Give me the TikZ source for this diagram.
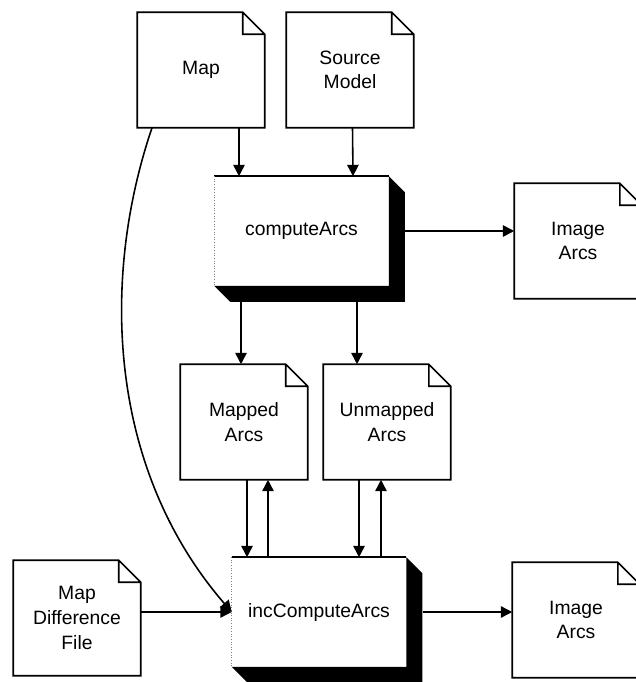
\documentclass[tikz,border=0pt]{standalone}
\usepackage{fontspec}
\setmainfont{Liberation Sans}
\usetikzlibrary{arrows.meta,calc}

\begin{document}
\begin{tikzpicture}[x=0.02cm,y=-0.02cm,line width=0.9pt,
  >={Triangle[length=6.5pt,width=6.5pt]},
  doc/.style={minimum width=2.52cm,minimum height=2.28cm,inner sep=0pt,
    align=center,font=\fontsize{11}{14}\selectfont},
  proc/.style={minimum width=3.46cm,minimum height=2.16cm,inner sep=0pt,
    fill=white,font=\fontsize{11}{14}\selectfont}]
\useasboundingbox (0,0) rectangle (635,682);
% Documents
\node[doc] (map) at (201,70) {Map};
\node[doc] (src) at (350,70) {Source\\Model};
\node[doc] (mapped) at (244,422) {Mapped\\Arcs};
\node[doc] (unmapped) at (387,422) {Unmapped\\Arcs};
\node[doc] (mdf) at (77,618) {Map\\Difference\\File};
\node[doc] (imgA) at (578,241) {Image\\Arcs};
\node[doc] (imgB) at (576,620) {Image\\Arcs};
\foreach \n in {map,src,mapped,unmapped,mdf,imgA,imgB}
  \draw (\n.south west) -- (\n.north west) -- ([xshift=-0.44cm]\n.north east)
    -- ([yshift=-0.44cm]\n.north east) -- (\n.south east) -- cycle
    ([xshift=-0.44cm]\n.north east) |- ([yshift=-0.44cm]\n.north east);
% Processes (raised boxes)
\node[proc] (comp) at (301.5,231) {computeArcs};
\node[proc] (inc) at (319,612) {incComputeArcs};
\foreach \n in {comp,inc} {
  \fill (\n.north east) -- ++(0.32cm,-0.32cm)
    -- ([shift={(0.32cm,-0.32cm)}]\n.south east)
    -- ([shift={(0.32cm,-0.32cm)}]\n.south west)
    -- (\n.south west) -- (\n.south east) -- cycle;
  \draw (\n.north west) -- (\n.north east);
  \draw[gray,densely dotted,line width=0.5pt] (\n.north west) -- (\n.south west);
}
% Flows
\draw[->] ($(map.south)+(38,0)$) -- ($(comp.north)+(-62.5,0)$);
\draw[->] ($(src.south)+(2.5,0)$) -- ($(comp.north)+(51.5,0)$);
\draw[->] ($(comp.south)+(-60.5,16)$) -- ($(mapped.north)+(-3,0)$);
\draw[->] ($(comp.south)+(55.5,16)$) -- ($(unmapped.north)+(-30,0)$);
\draw[->] ([xshift=0.32cm]comp.east) -- (comp.east -| imgA.west);
\draw[->] ($(mapped.south)+(3,0)$) -- ($(inc.north)+(-72,0)$);
\draw[->] ($(inc.north)+(-51,0)$) -- ($(mapped.south)+(24,0)$);
\draw[->] ($(unmapped.south)+(-28,0)$) -- ($(inc.north)+(40,0)$);
\draw[->] ($(inc.north)+(62,0)$) -- ($(unmapped.south)+(-6,0)$);
\draw[->] (inc.west -| mdf.east) -- (inc.west);
\draw[->] ([xshift=0.34cm]inc.east) -- (inc.east -| imgB.west);
\draw[->] ($(map.south)+(-49,0)$) .. controls +(-52,153) and +(-123,-142) .. (inc.west);
\end{tikzpicture}
\end{document}
